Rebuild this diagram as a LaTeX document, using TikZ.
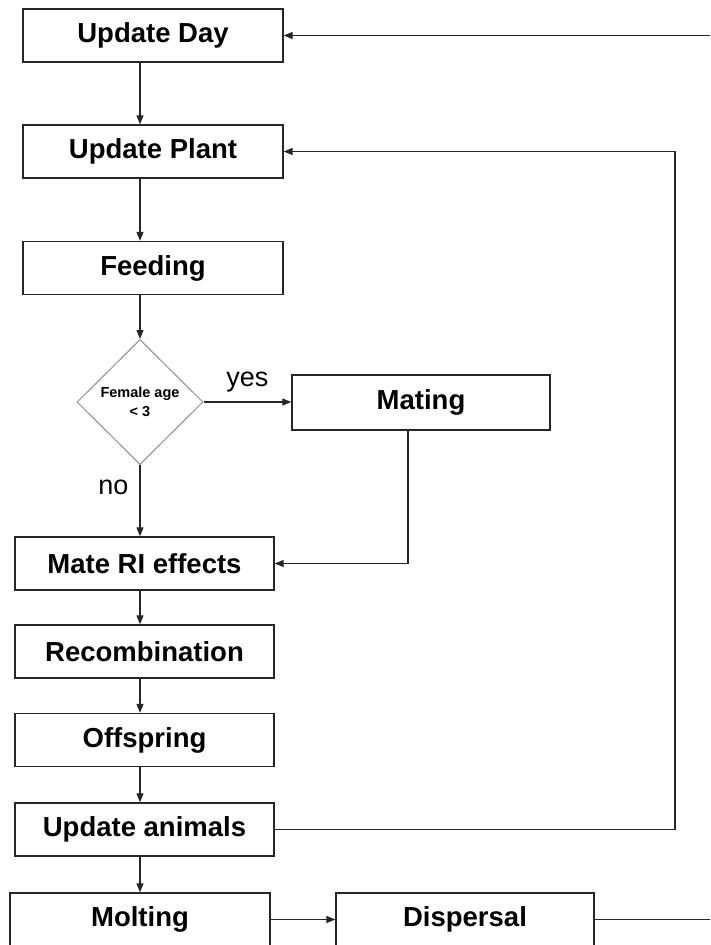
\documentclass[tikz,border=0pt]{standalone}
\usepackage{fontspec}
\setmainfont{Liberation Sans}
\usepackage{tikz}
\usetikzlibrary{arrows.meta,positioning,shapes.geometric}
\definecolor{FlowInk}{HTML}{262626}
\definecolor{FlowGrey}{HTML}{8F8F8F}

\begin{document}
\begin{tikzpicture}[x=1pt,y=-1pt,
    box/.style={draw=FlowInk,line width=1.4pt,minimum width=260pt,minimum height=53pt,
      inner sep=0pt,font=\fontsize{27.5}{30}\selectfont\bfseries},
    arr/.style={draw=FlowInk,line width=1.2pt,-{Triangle[length=9pt,width=7pt]}},
    lin/.style={draw=FlowInk,line width=1.2pt}]
  \useasboundingbox (0,0) rectangle (710,945);
  \coordinate (edgeR) at (710,0);
  \coordinate (backX) at (675,0);
  % main column
  \node[box] (day) at (153,35.5) {Update Day};
  \node[box] (plant) at (153,151.5) {Update Plant};
  \node[box] (feed) at (153,268) {Feeding};
  \node[draw=FlowGrey,line width=1pt,diamond,minimum width=126pt,minimum height=125pt,
    inner sep=0pt,align=center,font=\fontsize{14.5}{19}\selectfont\bfseries] (dia) at (140,402)
    {Female age\\ < 3};
  \node[box,minimum width=258pt,minimum height=55pt] (mating) at (421,402.5) {Mating};
  \node[box,minimum width=259pt] (mateRI) at (144.5,563.5) {Mate RI effects};
  \node[box,minimum width=259pt] (recomb) at (144.5,651.5) {Recombination};
  \node[box,minimum width=259pt] (offs) at (144.5,740) {Offspring};
  \node[box,minimum width=259pt] (animals) at (144.5,829.5) {Update animals};
  \node[box] (molt) at (140,919.5) {Molting};
  \node[box,minimum width=258pt] (disp) at (465,919.5) {Dispersal};
  % connectors
  \draw[arr] (edgeR |- day.east) -- (day.east);
  \draw[arr] (day.south -| dia.north) -- (plant.north -| dia.north);
  \draw[arr] (plant.south -| dia.north) -- (feed.north -| dia.north);
  \draw[arr] (feed.south -| dia.north) -- (dia.north);
  \draw[arr] (dia.east) -- node[above=9pt,inner sep=0pt,font=\fontsize{27}{30}\selectfont] {yes} (mating.west |- dia.east);
  \draw[arr] (dia.south) -- node[pos=0.32,left=11pt,inner sep=0pt,font=\fontsize{27}{30}\selectfont] {no} (mateRI.north -| dia.south);
  \draw[arr] ([xshift=-13pt]mating.south) |- (mateRI.east);
  \draw[arr] (mateRI.south -| dia.south) -- (recomb.north -| dia.south);
  \draw[arr] (recomb.south -| dia.south) -- (offs.north -| dia.south);
  \draw[arr] (offs.south -| dia.south) -- (animals.north -| dia.south);
  \draw[arr] (animals.south -| dia.south) -- (molt.north -| dia.south);
  \draw[arr] (animals.east) -- (animals.east -| backX) |- (plant.east);
  \draw[arr] (molt.east) -- (disp.west);
  \draw[lin] (disp.east) -- (disp.east -| edgeR);
\end{tikzpicture}
\end{document}
